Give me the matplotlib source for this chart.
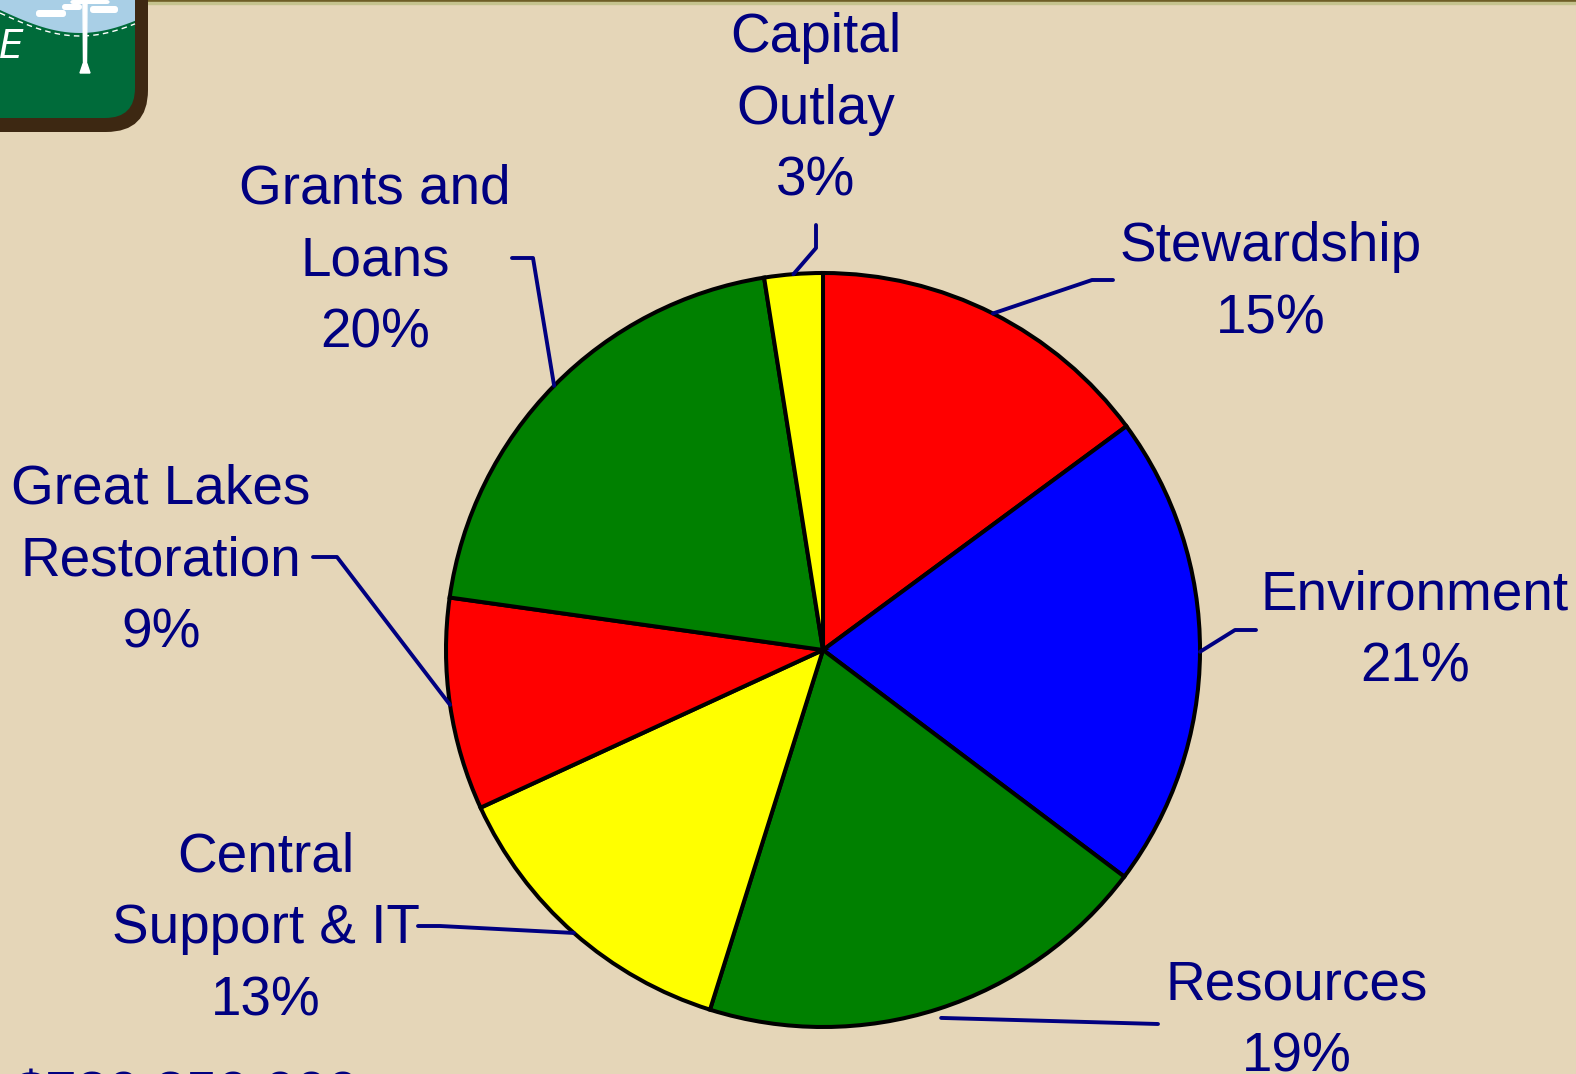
import matplotlib
matplotlib.use("Agg")
import matplotlib.pyplot as plt
import numpy as np
from matplotlib.patches import FancyBboxPatch, Rectangle, Polygon

# ---- data ----
categories = ["Stewardship", "Environment", "Resources", "Central\nSupport & IT",
              "Great Lakes\nRestoration", "Grants and\nLoans", "Capital\nOutlay"]
shares = [14.9, 20.4, 19.6, 13.3, 9.1, 20.3, 2.5]
pct_labels = ["15%", "21%", "19%", "13%", "9%", "20%", "3%"]
colors = ["#FF0000", "#0000FF", "#008000", "#FFFF00", "#FF0000", "#008000", "#FFFF00"]
total_text = "$730,350,000"

W, H = 1576, 1074
BG = "#E5D6B8"
NAVY = "#000080"
FONT = "Liberation Sans"
FS = 39.5

fig = plt.figure(figsize=(W / 100, H / 100), dpi=100, facecolor=BG)
ax = fig.add_axes([0, 0, 1, 1])
ax.set_facecolor(BG)

def Y(y):
    return H - y

cx, cy, R = 823, Y(650), 377
wedges, _ = ax.pie(shares, colors=colors, startangle=90, counterclock=False,
                   center=(cx, cy), radius=R,
                   wedgeprops=dict(edgecolor="black", linewidth=2.9))
ax.set_xlim(0, W)
ax.set_ylim(0, H)
ax.set_aspect("auto")
ax.axis("off")

# label layout (pixel positions): center x, first baseline, leader elbow, leader end, radius factor
layout = [
    (1271, 261, (1092, 280), (1113, 280), 1.0),
    (1415, 609, (1235, 630), (1256, 630), 1.0),
    (1297, 1000, None, (1158, 1024), 1.025),
    (266, 871, (440, 926), (418, 926), 1.0),
    (161, 503, (337, 557), (313, 557), 1.0),
    (375, 203, (533, 258), (512, 258), 1.0),
    (816, 52, (816, 248), (816, 225), 1.0),
]
LS = 72

for w, cat, pct, (tx, ty, elbow, end, rf) in zip(wedges, categories, pct_labels, layout):
    lines = cat.split("\n") + [pct]
    for i, ln in enumerate(lines):
        ax.text(tx, Y(ty + i * LS), ln, ha="center", va="baseline",
                fontsize=FS, color=NAVY, family=FONT)
    mid = np.deg2rad((w.theta1 + w.theta2) / 2)
    sx = cx + R * rf * np.cos(mid)
    sy = cy + R * rf * np.sin(mid)
    xs = [sx]
    ys = [sy]
    if elbow is not None:
        xs.append(elbow[0]); ys.append(Y(elbow[1]))
    xs.append(end[0]); ys.append(Y(end[1]))
    ax.plot(xs, ys, color=NAVY, lw=2.8, solid_capstyle="round", zorder=1)

# bottom total (cut off by the frame edge)
ax.text(14, Y(1110), total_text, ha="left", va="baseline", fontsize=FS + 1,
        color=NAVY, family=FONT, clip_on=False)

# top border line
ax.add_patch(Rectangle((0, Y(2)), W, 2, color="#6E5E26", zorder=5, clip_on=False))
ax.add_patch(Rectangle((0, Y(4)), W, 2, color="#C5C38E", zorder=5, clip_on=False))

# logo corner
brown = FancyBboxPatch((-80, Y(132)), 228, 220, boxstyle="round,pad=0,rounding_size=42",
                       fc="#3D2812", ec="none", zorder=6, clip_on=False)
ax.add_patch(brown)
green = FancyBboxPatch((-80, Y(118)), 215, 220, boxstyle="round,pad=0,rounding_size=30",
                       fc="#006B3A", ec="none", zorder=7, clip_on=False)
ax.add_patch(green)
sky_x = np.linspace(0, 135, 30)
sky_y = 10 + 23 * np.sin(np.pi * sky_x / 160)
sky = Polygon(list(zip(sky_x, Y(sky_y))) + [(135, Y(0)), (0, Y(0))], closed=True,
              fc="#A9CFE6", ec="none", zorder=8, clip_on=False)
ax.add_patch(sky)
sky.set_clip_path(green)
ax.plot(sky_x, Y(sky_y + 3), color="white", lw=1, ls=(0, (4, 3)), zorder=9)
# tree
ax.fill([83, 87, 86.5, 83.5], [Y(0), Y(0), Y(66), Y(66)], color="white", zorder=9)
ax.fill([80, 90, 87, 83], [Y(73), Y(73), Y(64), Y(64)], color="white", zorder=9)
for (bx, by, bw, bh) in [(36, 10, 30, 7), (62, 4, 20, 6), (90, 6, 28, 7), (70, 0, 40, 4)]:
    ax.add_patch(FancyBboxPatch((bx, Y(by + bh)), bw, bh, boxstyle="round,pad=0,rounding_size=3",
                                fc="white", ec="none", zorder=9))
ax.text(-1, Y(58), "E", ha="left", va="baseline", fontsize=28, color="white",
        family="DejaVu Sans", style="italic", weight="light", zorder=10)

fig.savefig("out.png", dpi=100, facecolor=BG)
